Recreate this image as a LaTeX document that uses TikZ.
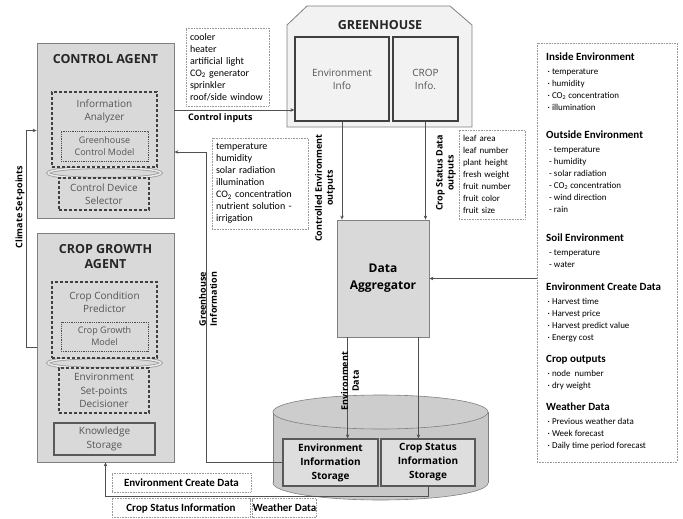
\documentclass[tikz,border=0pt]{standalone}
\usepackage{fontspec}
\setmainfont{Open Sans}
\newfontfamily\listfont{Carlito}
\usetikzlibrary{positioning, arrows.meta, calc}
\definecolor{agentgray}{RGB}{217,217,217}
\definecolor{edgegray}{RGB}{128,128,128}
\definecolor{linegray}{RGB}{80,80,80}
\definecolor{housegray}{RGB}{242,242,242}
\definecolor{tankgray}{RGB}{200,200,200}
\definecolor{storegray}{RGB}{222,222,222}
\definecolor{textgray}{RGB}{85,85,85}

\begin{document}
\begin{tikzpicture}[x=1pt, y=-1pt,
    sz/.style 2 args={minimum width=#1pt, minimum height=#2pt},
    agent/.style={draw=edgegray, line width=0.8pt, fill=agentgray, inner sep=0pt},
    title/.style={font=\bfseries\fontsize{12.5}{15}\selectfont, align=center, text=black!85},
    module/.style={draw=black!75, line width=1.1pt, dash pattern=on 3pt off 2pt, fill=agentgray,
      text=textgray, align=center, inner sep=0pt, font=\fontsize{10}{13.5}\selectfont},
    model/.style={draw=black!70, densely dotted, line width=0.8pt, fill=agentgray,
      text=textgray, align=center, inner sep=0pt, font=\fontsize{9}{12}\selectfont},
    plain/.style={text=textgray, align=center, inner sep=0pt, font=\fontsize{10}{13.5}\selectfont},
    info/.style={draw=black!75, line width=1.3pt, fill=housegray, align=center, inner sep=0pt,
      text=textgray, font=\fontsize{10}{13}\selectfont},
    store/.style={draw=black!65, line width=1.3pt, fill=storegray, align=center, inner sep=0pt,
      font=\bfseries\fontsize{10}{14}\selectfont},
    listbox/.style={draw=gray!80, dash pattern=on 0.8pt off 0.8pt, line width=0.6pt, fill=white,
      align=left, inner xsep=4pt, inner ysep=0pt, font=\listfont\fontsize{10}{12}\selectfont},
    grp/.style={align=left, inner sep=0pt, anchor=north west, font=\listfont\fontsize{9}{12}\selectfont},
    tag/.style={draw=gray!80, dash pattern=on 0.8pt off 0.8pt, line width=0.6pt,
      inner sep=0pt, font=\listfont\bfseries\fontsize{11}{13}\selectfont},
    flow/.style={draw=linegray, line width=0.8pt, -{Stealth[length=4pt, width=3.5pt]}},
    flowlbl/.style={font=\bfseries\fontsize{9}{11}\selectfont, align=center, inner sep=0pt}]
  \def\grphead#1{{\fontsize{11}{13}\selectfont\bfseries #1}}
  \def\ring#1{
    \draw[edgegray!80, line width=3pt] #1 ellipse [x radius=56.5, y radius=5.5];
    \draw[agentgray!50!white, line width=1.4pt] #1 ellipse [x radius=56.5, y radius=5.5];
  }
  \useasboundingbox (0,0) rectangle (683,519);

  % control agent
  \node[agent, sz={137}{175}] (ctrl) at (105.5,130.5) {};
  \node[title] (ctrlT) at (105.5,59) {CONTROL AGENT};
  \ring{(104.5,173)}
  \node[module, sz={105}{75}] (anlz) at (104.5,129.5) {};
  \node[plain] (anlzT) at (104.5,111.5) {Information\\Analyzer};
  \node[model, sz={87}{30}] (ghModel) at (104.5,146) {Greenhouse\\Control Model};
  \node[module, sz={90}{32}] (sel) at (104,194) {Control Device\\Selector};

  % crop growth agent
  \node[agent, sz={137}{229}] (crop) at (105.5,347.5) {};
  \node[title] (cropT) at (105.5,256.5) {CROP GROWTH\\AGENT};
  \ring{(104.5,363)}
  \node[module, sz={105}{76}] (pred) at (104.5,320) {};
  \node[plain] (predT) at (104.5,302) {Crop Condition\\Predictor};
  \node[model, sz={87}{29}] (cgModel) at (104.5,336.5) {Crop Growth\\Model};
  \node[module, sz={90}{45}] (dec) at (104,390.5) {Environment\\Set-points\\Decisioner};
  \node[plain, draw=black!65, line width=1.2pt, fill=agentgray, sz={101}{32}] (know) at (104.5,439) {Knowledge\\Storage};

  % greenhouse
  \draw[edgegray, line width=0.8pt, fill=housegray] (287,127) -- (287,25) -- (307,6) -- (450,6)
    -- (472,25) -- (472,127) -- cycle;
  \node[title] (house) at (380,25) {GREENHOUSE};
  \node[info, sz={94}{84}] (envInfo) at (342,79) {Environment\\Info};
  \node[info, sz={65}{84}] (cropInfo) at (425.5,79) {CROP\\Info.};

  % lists
  \node[listbox, sz={83}{78}, text width=75pt] (devices) at (227.5,67)
    {cooler\\heater\\artificial light\\CO\textsubscript{2} generator\\sprinkler\\roof/side window};
  \node[listbox, sz={96}{91}, text width=88pt] (envList) at (260,183.5)
    {temperature\\humidity\\solar radiation\\illumination\\CO\textsubscript{2} concentration\\nutrient solution -\\irrigation};
  \node[listbox, sz={66}{89}, text width=58pt, font=\listfont\fontsize{9}{12}\selectfont] (cropList) at (492,174.5)
    {leaf area\\leaf number\\plant height\\fresh weight\\fruit number\\fruit color\\fruit size};

  % data aggregator
  \node[draw=edgegray, line width=0.8pt, fill=agentgray, sz={92}{117}, align=center,
    font=\bfseries\fontsize{12}{17}\selectfont] (agg) at (383,278.5) {Data\\Aggregator};

  % right data box
  \node[draw=gray!80, dash pattern=on 0.8pt off 0.8pt, line width=0.6pt, sz={140}{419}] (dataBox) at (607,252.5) {};
  \node[grp] (inside) at (546,53) {\grphead{Inside Environment}\\[2pt]
    \,· temperature\\\,· humidity\\\,· CO\textsubscript{2} concentration\\\,· illumination};
  \node[grp] (outside) at (546,131) {\grphead{Outside Environment}\\[2pt]
    \,\,- temperature\\\,\,- humidity\\\,\,- solar radiation\\\,\,- CO\textsubscript{2} concentration\\\,\,- wind direction\\\,\,- rain};
  \node[grp] (soil) at (546,234) {\grphead{Soil Environment}\\[2pt]
    \,\,- temperature\\\,\,- water};
  \node[grp] (create) at (546,283) {\grphead{Environment Create Data}\\[2pt]
    \,· Harvest time\\\,· Harvest price\\\,· Harvest predict value\\\,· Energy cost};
  \node[grp] (outputs) at (546,355) {\grphead{Crop outputs}\\[2pt]
    \,· node\ \ number\\\,· dry weight};
  \node[grp] (weather) at (546,403) {\grphead{Weather Data}\\[2pt]
    \,· Previous weather data\\\,· Week forecast\\\,· Daily time period forecast};

  % storage tank
  \filldraw[fill=tankgray, draw=edgegray, line width=0.6pt] (380.5,483) ellipse [x radius=107.5, y radius=17];
  \fill[tankgray] (273,412) rectangle (488,483);
  \draw[edgegray, line width=0.6pt] (273,412) -- (273,483) (488,412) -- (488,483);
  \filldraw[fill=tankgray!90!white, draw=edgegray, line width=0.6pt] (380.5,412) ellipse [x radius=107.5, y radius=17];
  \node[store, sz={95}{47}] (envStore) at (330.5,462.5) {Environment\\Information\\Storage};
  \node[store, sz={94}{47}] (cropStore) at (428,462.5) {Crop Status\\Information\\Storage};

  % connectors
  \draw[flow] ($(ctrl.east)+(0,-20.5)$) coordinate (ci) -- (ci -| envInfo.west);
  \node[flowlbl, anchor=west] (ciLbl) at (188,118) {Control inputs};
  \draw[flow] (crop.west) -- ++(-10,0) |- (ctrl.west);
  \node[flowlbl, rotate=90] (climLbl) at (20,207) {Climate Set-points};
  \draw[flow] (envStore.west) -- ++(-76,0) |- ($(ctrl.east)+(0,21.5)$);
  \node[flowlbl, rotate=90] (ghLbl) at (208,299) {Greenhouse\\Information};
  \draw[flow] (envInfo.south) -- (envInfo.south |- agg.north);
  \node[flowlbl, rotate=90] (ceLbl) at (325,188) {Controlled Environment\\outputs};
  \draw[flow] (cropInfo.south) -- (cropInfo.south |- agg.north);
  \node[flowlbl, rotate=90] (csLbl) at (446,173) {Crop Status Data\\outputs};
  \draw[flow] (dataBox.west |- agg.east) -- (agg.east);
  \draw[flow] ($(agg.south west)+(11,0)$) coordinate (ed) -- (ed |- envStore.north);
  \node[flowlbl, rotate=90] (edLbl) at (350,381) {Environment\\Data};
  \draw[flow] ($(agg.south east)+(-11,0)$) coordinate (cd) -- (cd |- cropStore.north);
  \draw[flow] (cropStore.south) -- ++(0,10) -| (crop.south);

  % bottom tags
  \node[tag, sz={139}{19}] (tagCreate) at (181.5,482.5) {Environment Create Data};
  \node[tag, sz={138}{19}] (tagStatus) at (181,508) {Crop Status Information};
  \node[tag, sz={63}{19}] (tagWeather) at (284.5,508) {Weather Data};
\end{tikzpicture}
\end{document}
